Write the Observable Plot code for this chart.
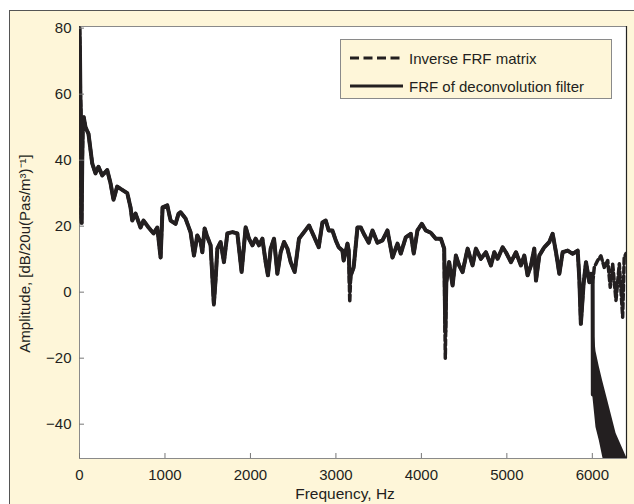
<!DOCTYPE html>
<html>
<head>
<meta charset="utf-8">
<script src="https://cdn.jsdelivr.net/npm/d3@7"></script>
<script src="https://cdn.jsdelivr.net/npm/@observablehq/plot@0.6"></script>
<style>
  body { margin:0; background:#fff; width:634px; height:504px; overflow:hidden; position:relative;
         font-family:"Liberation Sans", Arial, Helvetica, sans-serif; color:#231f20; }
  #bg { position:absolute; left:9px; top:10px; width:640px; height:510px; background:#fef6d9; border:1px solid #555; }
  #chart { position:absolute; left:0; top:0; }
  #legend { position:absolute; left:340px; top:39px; width:272px; height:60px; box-sizing:border-box;
            background:#fef6d9; border:1px solid #8a8a8a; }
  .row { position:absolute; left:9px; height:20px; display:flex; align-items:center; font-size:15px; white-space:nowrap; }
  .row svg { margin-right:6px; }
</style>
</head>
<body>
<div id="bg"></div>
<div id="chart"></div>
<div id="legend">
  <div class="row" style="top:8px"><svg width="53" height="6"><line x1="0" y1="3" x2="53" y2="3" stroke="#231f20" stroke-width="3" stroke-dasharray="9,4.5"/></svg>Inverse FRF matrix</div>
  <div class="row" style="top:36px"><svg width="53" height="6"><line x1="0" y1="3" x2="53" y2="3" stroke="#231f20" stroke-width="3"/></svg>FRF of deconvolution filter</div>
</div>
<script>
const ink = "#231f20";
const xDomain = [0, 6400];
const yDomain = [-50.4, 80.5];
const xTicks = [0, 1000, 2000, 3000, 4000, 5000, 6000];
const yTicks = [-40, -20, 0, 20, 40, 60, 80];
const xLabel = "Frequency, Hz";
const yLabel = "Amplitude, [dB/20u(Pas/m³)⁻¹]";

// FRF of deconvolution filter (solid): frequency (Hz) and amplitude (dB)
const freq = [
  0, 5, 10, 15, 20, 25, 32, 40, 50, 70,
  105, 149, 187, 222, 266, 324, 363, 398, 441, 500,
  559, 597, 617, 656, 714, 749, 808, 867, 910, 949,
  972, 1027, 1066, 1124, 1159, 1183, 1241, 1300, 1339, 1378,
  1417, 1437, 1464, 1496, 1534, 1572, 1593, 1613, 1651, 1690,
  1730, 1788, 1847, 1897, 1944, 1983, 2023, 2061, 2100, 2140,
  2178, 2205, 2237, 2276, 2315, 2354, 2393, 2433, 2471, 2518,
  2568, 2627, 2686, 2764, 2799, 2842, 2881, 2916, 2959, 2998,
  3033, 3076, 3091, 3135, 3150, 3162, 3173, 3208, 3252, 3291,
  3326, 3384, 3428, 3486, 3545, 3603, 3662, 3720, 3759, 3817,
  3876, 3911, 3954, 4005, 4052, 4110, 4169, 4228, 4267, 4280,
  4292, 4325, 4365, 4404, 4442, 4482, 4541, 4599, 4638, 4696,
  4755, 4814, 4853, 4892, 4951, 4989, 5048, 5107, 5165, 5204,
  5243, 5282, 5321, 5341, 5380, 5438, 5497, 5536, 5575, 5614,
  5653, 5712, 5770, 5829, 5848, 5866, 5898, 5926, 5965, 5984,
  6004
];
const filterDb = [
  80, 74, 60, 55, 23, 21, 40, 52, 53, 50,
  48, 39, 36, 38, 35.4, 37, 33, 28, 32, 31,
  30, 25.7, 21.7, 23.8, 19.6, 21.7, 19.6, 17.8, 19.6, 10.5,
  25.7, 26.3, 21.7, 20.7, 23.8, 24.2, 22.3, 18.1, 11.1, 17.2,
  15.2, 12.1, 19.3, 16.7, 14.2, -3.5, 4.1, 13.2, 15.2, 9.1,
  17.8, 18.2, 17.8, 6.1, 19.7, 16.2, 14.2, 16.2, 14.2, 16.2,
  9.1, 5.1, 13.2, 16.2, 5.6, 12.1, 15.2, 13.2, 9.1, 6.1,
  16.2, 18.2, 20.2, 15.7, 13.6, 21.1, 21.7, 18.7, 18.7, 15.7,
  13.6, 12.6, 9.6, 14.7, 12.6, 2.6, 5, 7.5, 19.6, 19.6,
  17.7, 15, 18.7, 15, 15.7, 18.7, 10.5, 14.7, 11.7, 16.6,
  17.7, 11.7, 18.7, 20.7, 18.7, 18, 16.2, 16.2, 13.2, -12,
  3, 9.1, 2, 11.1, 8.1, 6.1, 13.2, 8.1, 13.2, 10.1,
  12.1, 8.1, 12.1, 10.1, 13.6, 12.1, 9.1, 12.1, 8.1, 11.1,
  5.1, 8.1, 13.2, 3.5, 11.1, 13.6, 15.2, 17.7, 12.1, 5.6,
  12.1, 12.6, 11.6, 12.6, 4.1, -9.6, 2.6, 9.1, 3, 5.6,
  2.6
];
// deconvolution filter drop at 6 kHz and its dense oscillation band (envelope)
const filterDropFreq = [6004, 6006];
const filterDropDb = [2.6, -31];
const bandFreq  = [6004, 6043, 6082, 6122, 6180, 6278, 6400];
const bandUpper = [-8, -18, -22.7, -27, -32.8, -42.8, -50];
const bandLower = [-31, -41, -45, -50, -56, -56, -56];

// Inverse FRF matrix (dashed): same as the filter except deeper dips, then continues above 6 kHz
const dipFreq = [1572, 3162, 4280];
const dipInverseDb = [-4, -3, -20];
const tailFreq = [6004, 6023, 6062, 6101, 6140, 6180, 6210, 6238, 6277, 6316, 6355, 6373, 6394, 6400];
const tailInverseDb = [2.6, 7.5, 9.6, 11, 7.5, 9.6, 1.5, 8.6, -2.5, 8.6, -7.6, 10.5, 11.7, 11];

const filterData = freq.map((f, i) => ({f, v: filterDb[i]}))
  .concat(filterDropFreq.map((f, i) => ({f, v: filterDropDb[i]})));
const inverseData = freq.map((f, i) => {
  const k = dipFreq.indexOf(f);
  return {f, v: k >= 0 ? dipInverseDb[k] : filterDb[i]};
}).concat(tailFreq.slice(1).map((f, i) => ({f, v: tailInverseDb[i + 1]})));
const bandData = bandFreq.map((f, i) => ({f, hi: bandUpper[i], lo: bandLower[i]}));

const chart = Plot.plot({
  width: 634,
  height: 504,
  marginLeft: 79,
  marginTop: 26,
  marginRight: 8,
  marginBottom: 46,
  style: {background: "transparent", fontSize: "15px", fontFamily: "'Liberation Sans', Arial, Helvetica, sans-serif", color: ink},
  x: {domain: xDomain},
  y: {domain: yDomain},
  marks: [
    Plot.frame({fill: "white", stroke: "#8a8a8a"}),
    Plot.areaY(bandData, {x: "f", y1: "lo", y2: "hi", fill: ink, clip: true}),
    Plot.line(inverseData, {x: "f", y: "v", stroke: ink, strokeWidth: 3.5, strokeDasharray: "6,3", strokeLinejoin: "round", clip: true}),
    Plot.line(filterData, {x: "f", y: "v", stroke: ink, strokeWidth: 4, strokeLinejoin: "round", clip: true}),
    Plot.ruleX([xDomain[1]], {stroke: "#222", strokeWidth: 1.2}),
    Plot.axisX({ticks: xTicks, tickFormat: "d", tickSize: -5, tickPadding: 16, stroke: "#777", label: null}),
    Plot.axisY({ticks: yTicks, tickFormat: "d", tickSize: -5, tickPadding: 13, stroke: "#777", label: null}),
    Plot.text([xLabel], {frameAnchor: "bottom", textAnchor: "middle", lineAnchor: "middle", dy: 36, dx: -8, fontSize: 15.5, fill: ink}),
    Plot.text([yLabel], {frameAnchor: "left", textAnchor: "middle", lineAnchor: "middle", rotate: -90, dx: -54, dy: 11, fontSize: 15, fill: ink})
  ]
});
document.getElementById("chart").appendChild(chart);
</script>
</body>
</html>
